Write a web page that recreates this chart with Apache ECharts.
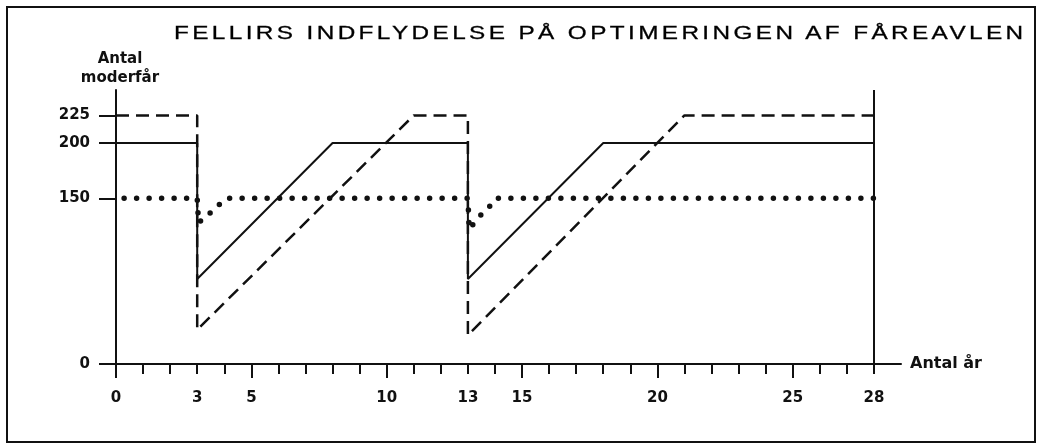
<!DOCTYPE html>
<html lang="da">

<head>
    <meta charset="UTF-8">
    <title>Fellirs indflydelse</title>
    <script src="https://cdn.jsdelivr.net/npm/echarts/dist/echarts.min.js"></script>
    <style>
        body {
            margin: 0;
            background: #fff;
        }

        #wrap {
            position: relative;
            width: 1044px;
            height: 445px;
        }

        #chart {
            width: 1044px;
            height: 445px;
        }

        #title {
            position: absolute;
            left: 174px;
            top: 23px;
            font-family: "Liberation Sans", Arial, sans-serif;
            font-size: 19px;
            line-height: 19px;
            letter-spacing: 2.65px;
            white-space: nowrap;
            color: #000;
            -webkit-text-stroke: 0.3px #000;
            transform: scaleX(1.28);
            transform-origin: left top;
        }
    </style>
</head>

<body>
    <div id="wrap">
        <div id="chart"></div>
        <div id="title">FELLIRS INDFLYDELSE PÅ OPTIMERINGEN AF FÅREAVLEN</div>
    </div>

    <script>
        // [år, antal moderfår]
        const solidLine = [[0, 200], [3, 200], [3, 77], [8, 200], [13, 200], [13, 77], [18, 200], [28, 200]];
        const dashedLine = [[0, 225], [3, 225], [3, 31], [11, 225], [13, 225], [13, 26], [21, 225], [28, 225]];
        const dottedLine = [[0.3, 150], [3, 150], [3.05, 128], [3.4, 135], [3.75, 143], [4.1, 150],
            [13, 150], [13.05, 122], [13.4, 133], [13.75, 141], [14.05, 150], [28, 150]];

        // ticks and labels
        const xTicks = Array.from({ length: 29 }, (_, i) => i);
        const xLongTicks = [0, 5, 10, 15, 20, 25];
        const xLabels = [0, 3, 5, 10, 13, 15, 20, 25, 28];
        const yTicks = [0, 150, 200, 225];
        const lastYear = 28;

        const labelFont = { fontFamily: 'DejaVu Sans', fontWeight: 'bold', fontSize: 15, color: '#111' };

        const chart = echarts.init(document.getElementById('chart'));
        chart.setOption({
            animation: false,
            backgroundColor: '#fff',
            grid: { left: 116, right: 143, top: 90, bottom: 81 },
            graphic: [{
                type: 'rect',
                shape: { x: 7, y: 7, width: 1028, height: 435 },
                style: { fill: null, stroke: '#111', lineWidth: 2 }
            }],
            xAxis: [{
                type: 'value', min: 0, max: 29,
                position: 'bottom',
                name: 'Antal år',
                nameLocation: 'end',
                nameGap: 9,
                nameTextStyle: Object.assign({ align: 'left', verticalAlign: 'middle', fontSize: 16 }, labelFont, { fontSize: 16 }),
                axisLine: { lineStyle: { color: '#111', width: 2 } },
                axisTick: { customValues: xTicks, length: 10, lineStyle: { color: '#111', width: 2 } },
                axisLabel: { customValues: xLabels, margin: 27, ...labelFont },
                splitLine: { show: false }
            }, {
                // long ticks every 5 years
                type: 'value', min: 0, max: 29,
                position: 'bottom',
                axisLine: { show: false },
                axisTick: { customValues: xLongTicks, length: 14, lineStyle: { color: '#111', width: 2 } },
                axisLabel: { show: false },
                splitLine: { show: false }
            }],
            yAxis: {
                type: 'value', min: 0, max: 248,
                name: 'Antal\nmoderfår',
                nameLocation: 'end',
                nameGap: 2,
                nameTextStyle: Object.assign({ align: 'center', verticalAlign: 'bottom', lineHeight: 19, padding: [0, 0, 0, 8] }, labelFont),
                axisLine: { show: true, lineStyle: { color: '#111', width: 2 } },
                axisTick: { show: true, customValues: yTicks, length: 17, lineStyle: { color: '#111', width: 2 } },
                axisLabel: { customValues: yTicks, margin: 26, ...labelFont },
                splitLine: { show: false }
            },
            series: [{
                type: 'line',
                data: solidLine,
                symbol: 'none',
                lineStyle: { color: '#111', width: 2 },
                markLine: {
                    silent: true,
                    symbol: 'none',
                    label: { show: false },
                    lineStyle: { color: '#111', type: 'solid', width: 2 },
                    data: [{ xAxis: lastYear }]
                }
            }, {
                type: 'line',
                data: dashedLine,
                symbol: 'none',
                lineStyle: { color: '#111', width: 2.5, type: [13, 7] }
            }, {
                type: 'line',
                data: dottedLine,
                symbol: 'none',
                lineStyle: { color: '#111', width: 5.5, type: [0, 12.5], cap: 'round' }
            }]
        });
    </script>
</body>

</html>
